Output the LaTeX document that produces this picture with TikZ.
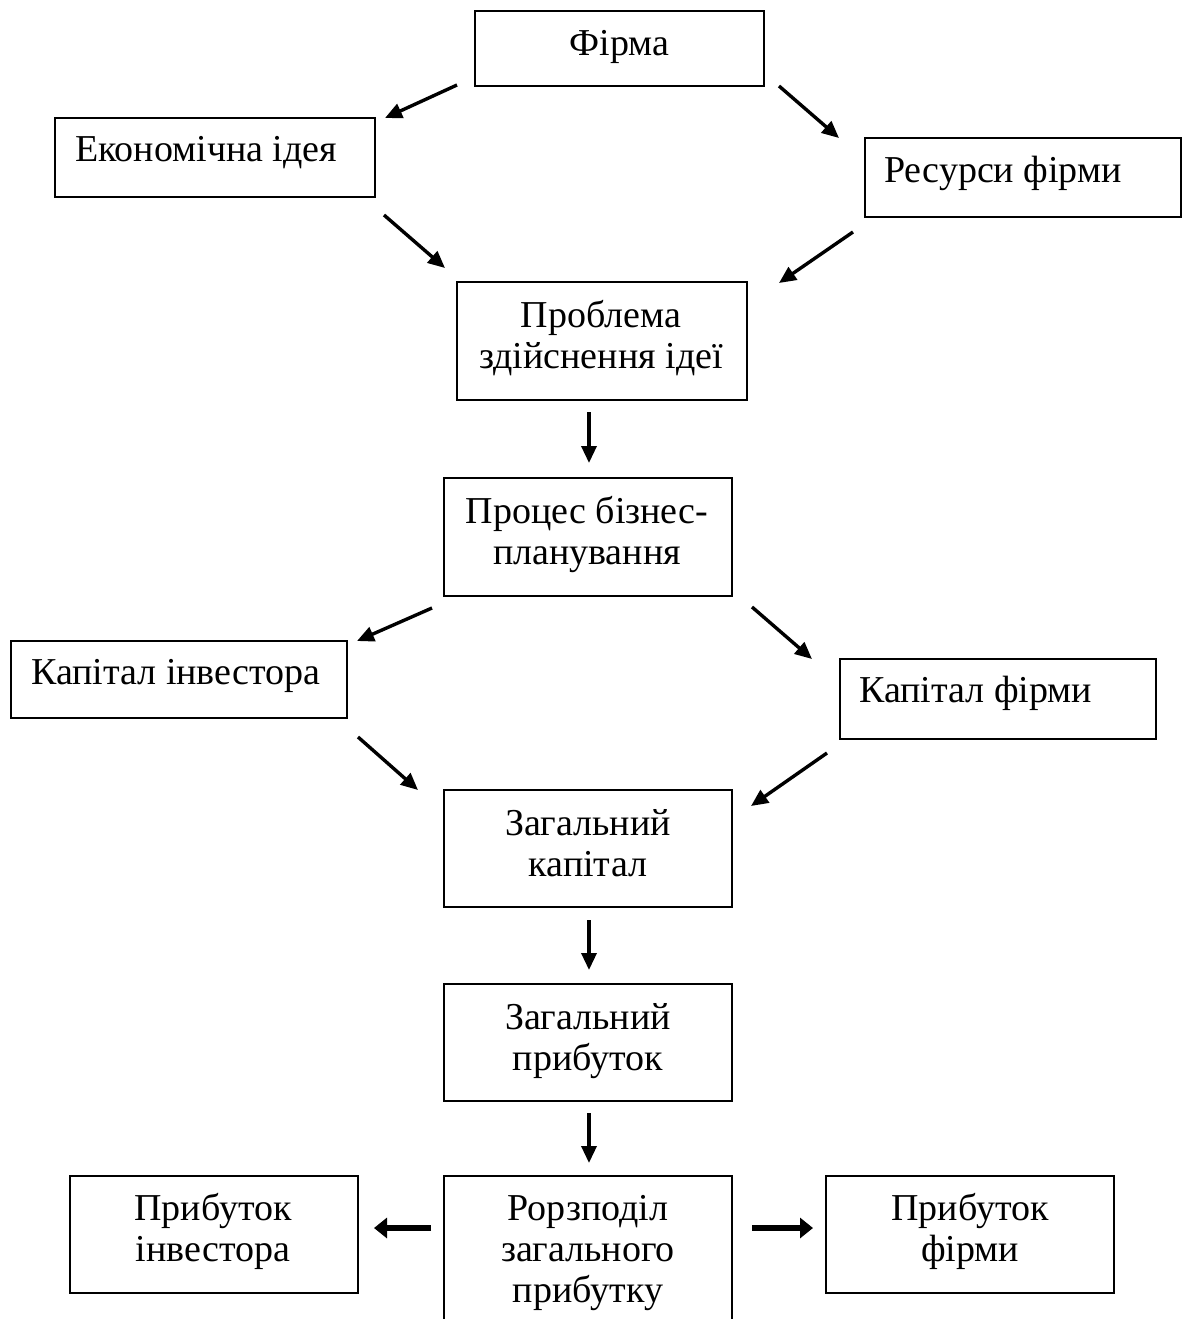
\documentclass[tikz,border=0pt]{standalone}
\usepackage{fontspec}
\setmainfont{Liberation Serif}
\usetikzlibrary{arrows.meta}
\begin{document}
\begin{tikzpicture}[x=1pt,y=-1pt,
  box/.style={draw, line width=1.8pt, inner sep=0pt},
  lbl/.style={inner sep=0pt, align=center, anchor=base, font=\fontsize{38}{41}\selectfont},
  lbll/.style={inner sep=0pt, anchor=base west, font=\fontsize{38}{41}\selectfont},
  arr/.style={line width=3.4pt, -{Triangle[length=17pt,width=15pt]}},
  harr/.style={line width=6pt, -{Triangle[length=13pt,width=20pt]}}]
\useasboundingbox (0,0) rectangle (1184,1319);
% boxes
\node[box, minimum width=289pt, minimum height=75pt]  (firm)     at (619.5,48.5) {};
\node[box, minimum width=320pt, minimum height=79pt]  (idea)     at (215,157.5) {};
\node[box, minimum width=316pt, minimum height=79pt]  (res)      at (1023,177.5) {};
\node[box, minimum width=290pt, minimum height=118pt] (prob)     at (602,341) {};
\node[box, minimum width=288pt, minimum height=118pt] (proc)     at (588,537) {};
\node[box, minimum width=336pt, minimum height=77pt]  (capinv)   at (179,679.5) {};
\node[box, minimum width=316pt, minimum height=80pt]  (capfirm)  at (998,699) {};
\node[box, minimum width=288pt, minimum height=117pt] (totcap)   at (588,848.5) {};
\node[box, minimum width=288pt, minimum height=117pt] (totprof)  at (588,1042.5) {};
\node[box, minimum width=288pt, minimum height=117pt] (profinv)  at (214,1234.5) {};
\node[box, minimum width=288pt, minimum height=117pt] (proffirm) at (970,1234.5) {};
\node[inner sep=0pt, minimum width=288pt, minimum height=160pt, anchor=north] (distr) at (588,1176) {};
\draw[line width=1.8pt] (distr.south west) -- (distr.north west) -- (distr.north east) -- (distr.south east);
% texts (anchor base = baseline of the last line)
\node[lbl] (tfirm) at (619.5,56) {Фірма};
\node[lbll] (tidea) at (75,161) {Економічна ідея};
\node[lbll] (tres) at (884,182) {Ресурси фірми};
\node[lbl] (tprob) at (601,368) {Проблема\\здійснення ідеї};
\node[lbl] (tproc) at (587,564) {Процес бізнес-\\планування};
\node[lbll] (tcapinv) at (31,684) {Капітал інвестора};
\node[lbll] (tcapfirm) at (859,702) {Капітал фірми};
\node[lbl] (ttotcap) at (588,876) {Загальний\\капітал};
\node[lbl] (ttotprof) at (588,1070) {Загальний\\прибуток};
\node[lbl] (tprofinv) at (213,1261) {Прибуток\\інвестора};
\node[lbl] (tdistr) at (588,1302) {Рорзподіл\\загального\\прибутку};
\node[lbl] (tproffirm) at (970,1261) {Прибуток\\фірми};
% arrow end points
\coordinate (a1s) at (457,85);   \coordinate (a1e) at (385,118);
\coordinate (a2s) at (779,86);   \coordinate (a2e) at (839,138);
\coordinate (a3s) at (384,215);  \coordinate (a3e) at (445,268);
\coordinate (a4s) at (853,232);  \coordinate (a4e) at (779,283);
\coordinate (a5s) at (589,412);  \coordinate (a5e) at (589,463);
\coordinate (a6s) at (432,608);  \coordinate (a6e) at (357,641);
\coordinate (a7s) at (752,607);  \coordinate (a7e) at (812,659);
\coordinate (a8s) at (358,737);  \coordinate (a8e) at (418,790);
\coordinate (a9s) at (827,753);  \coordinate (a9e) at (751,806);
\coordinate (a10s) at (589,920); \coordinate (a10e) at (589,970);
\coordinate (a11s) at (589,1113); \coordinate (a11e) at (589,1163);
\coordinate (a12s) at (431,1228); \coordinate (a12e) at (374,1228);
\coordinate (a13s) at (752,1228); \coordinate (a13e) at (813,1228);
\draw[arr] (a1s) -- (a1e);
\draw[arr] (a2s) -- (a2e);
\draw[arr] (a3s) -- (a3e);
\draw[arr] (a4s) -- (a4e);
\draw[arr] (a5s) -- (a5e);
\draw[arr] (a6s) -- (a6e);
\draw[arr] (a7s) -- (a7e);
\draw[arr] (a8s) -- (a8e);
\draw[arr] (a9s) -- (a9e);
\draw[arr] (a10s) -- (a10e);
\draw[arr] (a11s) -- (a11e);
\draw[harr] (a12s) -- (a12e);
\draw[harr] (a13s) -- (a13e);
\end{tikzpicture}
\end{document}
